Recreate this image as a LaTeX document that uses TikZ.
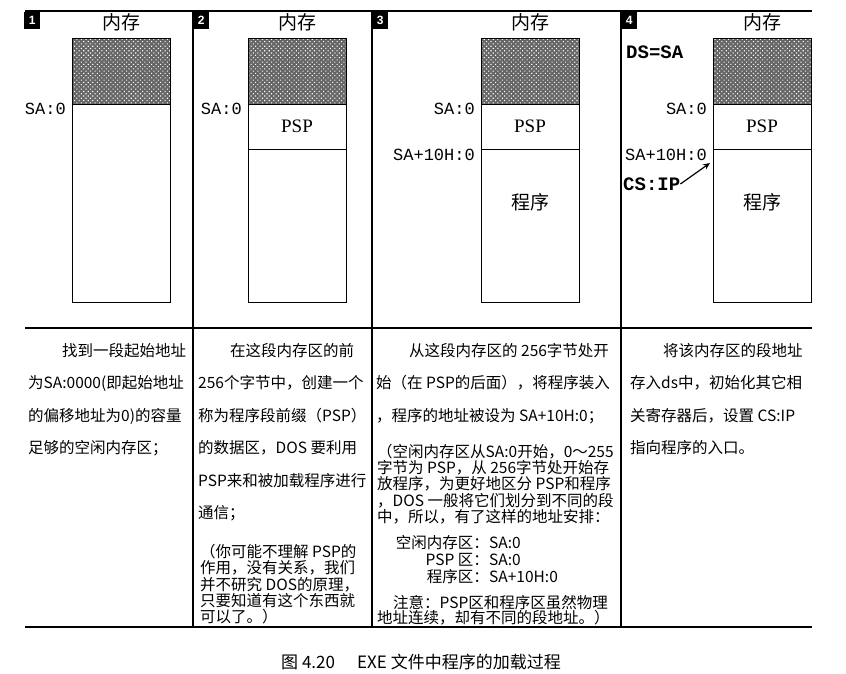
\documentclass[tikz,border=0pt]{standalone}
\usepackage{fontspec}
\setmainfont{Liberation Serif}
\newfontfamily\cjk{Noto Sans CJK SC}
\newfontfamily\mono{Liberation Mono}
\newfontfamily\numfont{Liberation Sans}
\usetikzlibrary{patterns.meta,arrows.meta}

\tikzset{
  hdr/.style={font=\cjk\fontsize{19}{20}\selectfont, inner sep=0},
  addr/.style={font=\mono\fontsize{17}{18}\selectfont, inner sep=0},
  boldaddr/.style={font=\mono\bfseries\fontsize{19}{20}\selectfont, inner sep=0},
  pspname/.style={font=\fontsize{19}{20}\selectfont, inner sep=0},
  para/.style={font=\cjk\fontsize{15.5}{16}\selectfont, inner sep=0, anchor=base west},
  numbox/.style={fill=black, text=white, font=\numfont\bfseries\fontsize{12}{12}\selectfont,
    minimum width=16pt, minimum height=17pt, inner sep=0pt, anchor=north west},
  hatched/.style={pattern={Dots[distance=3.2pt, radius=0.75pt, angle=45]}, pattern color=white}
}

\begin{document}
\begin{tikzpicture}[x=1pt,y=-1pt]
  \useasboundingbox (0,0) rectangle (846,673);
  \draw[line width=1.2] (25,11) -- (812,11);
  \draw[line width=1.2] (25,328) -- (812,328);
  \draw[line width=1.2] (25,627) -- (812,627);
  \foreach \s in {193,372,621} \draw[line width=1.8] (\s,11) -- (\s,627);
  \foreach \s [count=\p] in {24,193,372,621} \node[numbox] (num\p) at (\s,12) {\p};

  \foreach \x [count=\p] in {72,248,481,713} {
    \fill[black!60] (\x,38) rectangle ++(98,66);
    \path[hatched] (\x,38) rectangle ++(98,66);
    \draw (\x,38) rectangle ++(98,264);
    \draw (\x,104) -- ++(98,0);
    \node[hdr] (mem\p) at (\x+49,22) {内存};
    \node[addr, anchor=east] (sa\p) at (\x-6,109) {SA:0};
  }
  \foreach \x [count=\p from 2] in {248,481,713} {
    \draw (\x,149) -- ++(98,0);
    \node[pspname] (psp\p) at (\x+49,126) {PSP};
  }
  \foreach \x [count=\p from 3] in {481,713} {
    \node[hdr] (prog\p) at (\x+49,202) {程序};
    \node[addr, anchor=east] (sb\p) at (\x-6,155) {SA+10H:0};
  }
  \node[boldaddr, anchor=west] (dssa) at (626,52) {DS=SA};
  \node[boldaddr, anchor=west] (csip) at (623,184) {CS:IP};
  \coordinate (entry) at (710,163);
  \draw[-{Stealth[length=7pt,width=6pt]}, line width=1.2] (csip.east) -- (entry);

  \node[para] (t1-1) at (62,356) {找到一段起始地址};
  \foreach \t [count=\i from 2] in {{为SA:0000(即起始地址},{的偏移地址为0)的容量},{足够的空闲内存区；}}
    \node[para] (t1-\i) at (28,{356+32.5*(\i-1)}) {\t};

  \node[para] (t2-1) at (230,356) {在这段内存区的前};
  \foreach \t [count=\i from 2] in {{256个字节中，创建一个},{称为程序段前缀（PSP）},{的数据区，DOS 要利用},{PSP来和被加载程序进行},{通信；}}
    \node[para] (t2-\i) at (198,{356+32.5*(\i-1)}) {\t};
  \foreach \t [count=\i] in {{（你可能不理解 PSP的},{作用，没有关系，我们},{并不研究 DOS的原理，},{只要知道有这个东西就},{可以了。）}}
    \node[para] (n2-\i) at (200,{557.5+16.3*(\i-1)}) {\t};

  \node[para] (t3-1) at (409,356) {从这段内存区的 256字节处开};
  \foreach \t [count=\i from 2] in {{始（在 PSP的后面），将程序装入},{，程序的地址被设为 SA+10H:0；}}
    \node[para] (t3-\i) at (376,{356+32.5*(\i-1)}) {\t};
  \foreach \t [count=\i] in {{（空闲内存区从SA:0开始，0～255},{字节为 PSP，从 256字节处开始存},{放程序，为更好地区分 PSP和程序},{，DOS 一般将它们划分到不同的段},{中，所以，有了这样的地址安排：}}
    \node[para] (n3-\i) at (377,{457.5+16.2*(\i-1)}) {\t};
  \foreach \l/\v [count=\i] in {空闲内存区/SA:0, PSP 区/SA:0, 程序区/SA+10H:0} {
    \node[para, anchor=base east] (k3-\i) at (489,{548.5+17*(\i-1)}) {\l：};
    \node[para] (v3-\i) at (489,{548.5+17*(\i-1)}) {\v};
  }
  \node[para] (m3-1) at (393,608.5) {注意：PSP区和程序区虽然物理};
  \node[para] (m3-2) at (377,623.5) {地址连续，却有不同的段地址。）};

  \node[para] (t4-1) at (663,356) {将该内存区的段地址};
  \foreach \t [count=\i from 2] in {{存入ds中，初始化其它相},{关寄存器后，设置 CS:IP},{指向程序的入口。}}
    \node[para] (t4-\i) at (630,{356+32.5*(\i-1)}) {\t};

  \node[font=\cjk\fontsize{17}{20}\selectfont, inner sep=0] (cap) at (421,662) {图 4.20\hspace{1.3em}EXE 文件中程序的加载过程};
\end{tikzpicture}
\end{document}
